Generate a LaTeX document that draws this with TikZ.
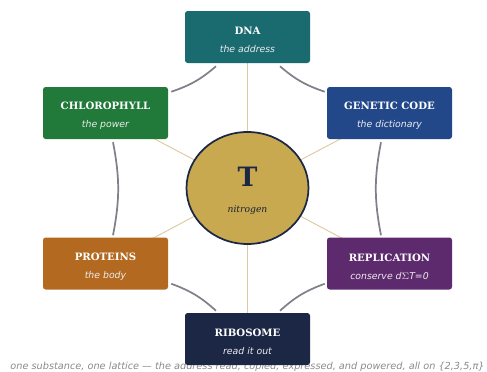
\documentclass[tikz,border=0pt]{standalone}
\usepackage{fontspec}
\setmainfont{DejaVu Serif}
\setsansfont{DejaVu Sans}
\usetikzlibrary{shapes.geometric,backgrounds}
\definecolor{dnateal}{HTML}{1A6B70}
\definecolor{leafgreen}{HTML}{217A3A}
\definecolor{codeblue}{HTML}{23488A}
\definecolor{protorange}{HTML}{B36A20}
\definecolor{repurple}{HTML}{5E2A6E}
\definecolor{ribonavy}{HTML}{1B2745}
\definecolor{coregold}{HTML}{C9A94F}
\definecolor{ringgray}{HTML}{80808A}
\definecolor{spoketan}{HTML}{DEC9A0}
\definecolor{capgray}{HTML}{8A8A8A}
\tikzset{
  stage/.style={rounded corners=2pt,minimum width=93.75pt,minimum height=39pt,inner sep=0pt,
    align=center,text=white,font=\fontsize{7.6}{13.5}\selectfont},
  ring/.style={draw=ringgray,line width=1.3pt,bend right=11},
  spoke/.style={draw=spoketan,line width=0.7pt}
}
\newcommand{\stagetext}[2]{\rule{0pt}{10pt}{\bfseries #1}\\{\fontsize{7}{13.5}\selectfont\sffamily\itshape\color{white!85!gray} #2}}
\begin{document}
\begin{tikzpicture}[x=0.75pt,y=-0.75pt]
  \useasboundingbox (0,0) rectangle (487,372);
  % the six stages
  \node[stage,fill=dnateal]    (dna)     at (247.5,37)  {\stagetext{DNA}{the address}};
  \node[stage,fill=leafgreen]  (chloro)  at (105.5,113) {\stagetext{CHLOROPHYLL}{the power}};
  \node[stage,fill=codeblue]   (gencode) at (389.5,113) {\stagetext{GENETIC CODE}{the dictionary}};
  \node[stage,fill=protorange] (prot)    at (105.5,263.5) {\stagetext{PROTEINS}{the body}};
  \node[stage,fill=repurple]   (replic)  at (389.5,263.5) {\stagetext{REPLICATION}{conserve d$\Sigma$T=0}};
  \node[stage,fill=ribonavy]   (ribo)    at (247.5,339) {\stagetext{RIBOSOME}{read it out}};
  % core
  \node[ellipse,draw=ribonavy,line width=1.3pt,fill=coregold,minimum width=91.5pt,minimum height=84pt,
    inner sep=0pt,align=center,text=ribonavy] (core) at (247.5,188)
    {\rule{0pt}{19pt}{\fontsize{20}{20}\selectfont\bfseries T}\\[8pt]{\fontsize{6.9}{8}\selectfont\itshape\color{ribonavy!80!black} nitrogen}};
  \begin{scope}[on background layer]
    \node[text=capgray,font=\fontsize{7.3}{8}\selectfont\sffamily\itshape] (caption) at (247.5,367)
      {one substance, one lattice — the address read, copied, expressed, and powered, all on \{2,3,5,π\}};
    \foreach \n in {dna,chloro,gencode,prot,replic,ribo}
      {\draw[spoke] (core.center)--(\n.center);}
  \end{scope}
  % outer ring
  \draw[ring] ([shift={(32.5,3)}]dna.south) to ([shift={(-2,5)}]gencode.north west);
  \draw[ring] ([shift={(-8.5,3)}]gencode.south) to ([shift={(-8.5,-2)}]replic.north);
  \draw[ring] ([shift={(-2,-6)}]replic.south west) to ([shift={(32.5,-2)}]ribo.north);
  \draw[ring] ([shift={(-31.5,-2)}]ribo.north) to ([shift={(3,-6)}]prot.south east);
  \draw[ring] ([shift={(7.5,-2)}]prot.north) to ([shift={(7.5,3)}]chloro.south);
  \draw[ring] ([shift={(3,5)}]chloro.north east) to ([shift={(-31.5,3)}]dna.south);
\end{tikzpicture}
\end{document}
